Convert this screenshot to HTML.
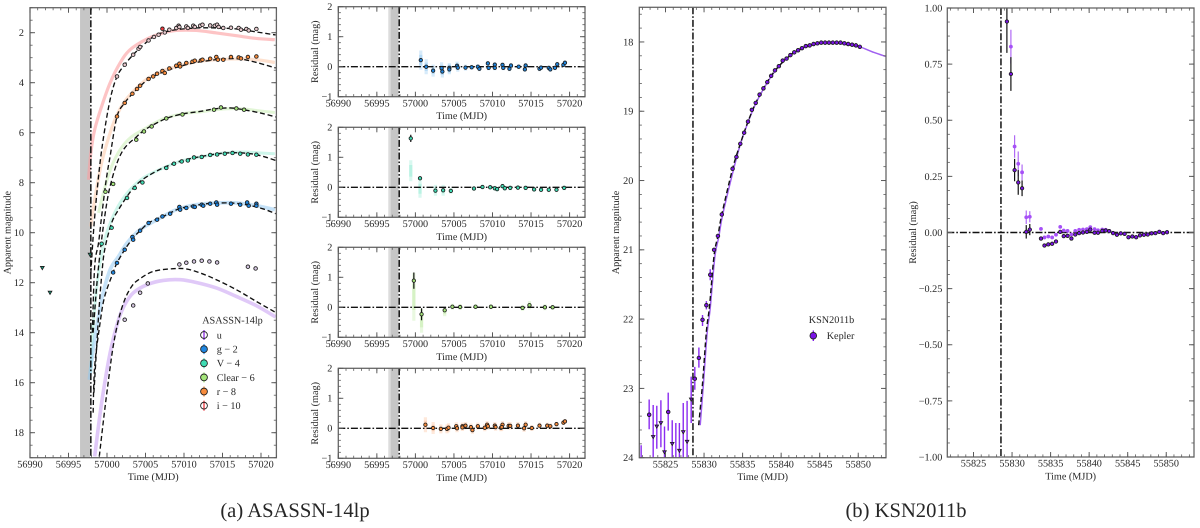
<!DOCTYPE html>
<html lang="en">
<head>
<meta charset="utf-8">
<title>ASASSN-14lp and KSN2011b light curves</title>
<style>
html,body{margin:0;padding:0;background:#fff;width:1200px;height:528px;overflow:hidden}
svg{display:block}
text{font-family:"Liberation Serif",serif;fill:#262626;text-rendering:geometricPrecision}
</style>
</head>
<body>
<svg id="figure" xmlns="http://www.w3.org/2000/svg" width="1200" height="528" viewBox="0 0 1200 528">
  <text x="295" y="517" font-size="20.6" text-anchor="middle">(a) ASASSN-14lp</text>
  <text x="906" y="517" font-size="20.6" text-anchor="middle">(b) KSN2011b</text>
</svg>
<script>
// ---- Axis tick labels ----
const mjdTicksA = [56990, 56995, 57000, 57005, 57010, 57015, 57020];
const mjdTicksB = [55825, 55830, 55835, 55840, 55845, 55850];
const magTicksA = [2, 4, 6, 8, 10, 12, 14, 16, 18];
const magTicksB = [18, 19, 20, 21, 22, 23, 24];
const residTicksA = [-1, 0, 1, 2];
const residTicksB = [-1, -0.75, -0.5, -0.25, 0, 0.25, 0.5, 0.75, 1];

// ---- Event epochs (MJD) ----
const grayBandA = [56996.5, 56997.8];
const residualPaleEdge = [56996.5, 56996.8];
const firstLightA = 56997.9;
const firstLightB = 55828.56;

// ---- ASASSN-14lp photometry; times are days after MJD 56990 ----
const iTime = [11.3,12.3,13.4,14.1,14.3,15.4,16.1,16.7,17.5,18.1,19.0,19.3,19.4,20.3,20.5,21.2,21.4,22.1,22.4,23.4,24.0,24.3,24.5,25.1,26.1,27.1,27.4,28.1,28.4,29.4];
const iMag = [3.75,3.28,2.88,2.64,2.57,2.31,2.17,2.08,1.99,1.88,1.81,1.72,1.77,1.75,1.81,1.72,1.77,1.72,1.68,1.71,1.72,1.68,1.77,1.81,1.80,1.81,1.88,1.85,1.91,1.85];
const iRedTime = [17.2];
const iRedMag = [1.84];
const rTime = [11.3,12.3,13.3,13.9,14.3,15.4,16.0,16.5,17.2,17.5,18.1,19.0,19.4,19.5,20.3,21.1,21.4,22.2,22.4,23.4,24.2,24.4,25.1,26.1,27.1,27.4,28.3,29.4];
const rMag = [5.35,4.81,4.44,4.25,4.12,3.85,3.75,3.64,3.53,3.61,3.43,3.32,3.24,3.35,3.21,3.16,3.12,3.11,3.08,3.04,2.97,3.08,3.08,2.97,2.99,3.03,2.97,2.95];
const clearTime = [9.8,10.8,13.8,14.8,15.8,17.7,19.8,23.9,24.8,26.8,27.8];
const clearMag = [8.36,8.05,6.28,5.95,5.75,5.43,5.27,5.08,4.99,5.03,5.08];
const vTime = [9.3,10.6,12.6,13.6,14.6,17.7,18.7,19.7,20.5,21.3,22.3,23.4,24.3,25.3,26.3,27.3,28.3,29.4];
const vMag = [10.44,9.80,8.61,8.21,7.99,7.41,7.24,7.15,7.11,6.99,6.97,6.89,6.87,6.84,6.81,6.84,6.87,6.88];
const gTime = [10.8,11.3,12.3,13.3,13.4,14.3,15.4,16.5,17.2,18.2,19.4,19.5,20.3,21.2,21.4,22.3,22.5,23.4,24.2,24.3,26.1,27.3,28.2,28.4,29.4,29.4];
const gMag = [11.59,11.21,10.68,10.17,10.28,9.92,9.61,9.48,9.35,9.24,8.97,9.08,9.01,8.95,8.97,8.88,8.92,8.84,8.79,8.88,8.84,8.88,8.79,8.92,8.84,8.92];
const uTime = [12.3,13.4,14.3,15.3,19.4,20.3,21.3,22.3,23.3,24.3,28.3,29.3];
const uMag = [13.48,12.91,12.40,12.03,11.27,11.20,11.15,11.12,11.15,11.19,11.36,11.43];
const limitTime = [1.6,2.6,7.8];
const limitMag = [11.41,12.40,10.88];

// ---- ASASSN-14lp dashed model curves ----
const iModelTime = [7.9,8.3,8.9,9.5,10.4,11.3,12.3,13.4,14.3,15.4,16.2,17.3,19.0,21.6,24.2,26.8,29.4,31.9];
const iModelMag = [11.61,9.75,7.75,6.28,4.68,3.75,3.28,2.88,2.61,2.31,2.12,1.99,1.88,1.81,1.81,1.85,1.97,2.09];
const rModelTime = [8.1,8.4,8.9,9.3,9.9,10.4,11.3,12.3,13.3,14.2,15.4,16.5,17.5,19.0,21.2,23.4,25.1,27.3,29.4,31.9];
const rModelMag = [14.0,11.35,10.41,9.35,7.88,6.95,5.35,4.81,4.44,4.17,3.85,3.68,3.55,3.39,3.21,3.11,3.05,3.05,3.19,3.41];
const clearModelTime = [8.2,8.7,9.3,9.9,10.4,11.3,12.3,13.8,14.8,15.8,17.7,19.8,22.1,23.9,26.0,27.7,29.9,31.9];
const clearModelMag = [14.0,12.0,10.28,8.95,8.15,7.21,6.61,6.17,5.91,5.72,5.43,5.25,5.15,5.05,5.01,5.08,5.21,5.37];
const vModelTime = [8.3,8.9,9.3,9.7,10.6,11.5,12.6,13.6,14.6,16.0,17.7,19.7,21.6,24.2,26.4,28.6,30.3,31.9];
const vModelMag = [16.4,13.35,11.75,10.68,9.61,9.08,8.55,8.15,7.88,7.61,7.35,7.12,6.99,6.85,6.80,6.84,6.95,7.11];
const gModelTime = [8.2,8.4,9.1,9.7,10.8,11.3,12.3,13.4,14.3,15.4,16.5,17.3,18.2,19.4,21.2,23.4,26.0,28.1,30.3,31.9];
const gModelMag = [17.2,15.35,13.61,12.55,11.59,11.21,10.68,10.21,9.92,9.61,9.45,9.35,9.21,9.04,8.92,8.83,8.81,8.88,9.05,9.24];
const uModelTime = [9.0,9.6,10.2,10.8,11.5,12.3,13.2,14.1,16.0,18.6,20.3,22.1,24.2,26.8,29.4,31.9];
const uModelMag = [18.95,17.35,15.88,14.55,13.48,12.68,12.15,11.88,11.55,11.44,11.45,11.61,11.88,12.28,12.75,13.19];

// ---- ASASSN-14lp pale posterior bands ----
const iBandTime = [7.6,7.9,8.4,9.3,10.4,11.7,13.0,15.2,17.3,19.0,21.6,24.2,26.8,29.4,31.8];
const iBandMag = [7.88,6.81,5.88,4.95,4.01,3.21,2.68,2.25,2.01,1.91,1.91,2.01,2.12,2.23,2.28];
const rBandTime = [7.9,8.4,9.3,10.4,11.3,12.3,13.4,15.2,17.3,19.5,21.6,24.2,26.8,29.4,31.8];
const rBandMag = [9.75,8.68,7.21,6.01,5.28,4.75,4.35,3.85,3.52,3.32,3.16,3.08,3.05,3.08,3.19];
const clearBandTime = [8.9,9.7,10.6,11.7,13.0,14.7,17.3,19.9,22.5,25.1,27.7,29.9,31.8];
const clearBandMag = [9.21,8.21,7.35,6.68,6.21,5.88,5.45,5.24,5.15,5.05,5.05,5.13,5.19];
const vBandTime = [7.9,8.2,8.9,9.7,10.6,11.7,13.0,14.7,17.3,19.9,22.5,25.1,27.7,29.9,31.8];
const vBandMag = [15.6,13.75,11.6,10.28,9.48,8.81,8.28,7.81,7.41,7.11,6.95,6.81,6.77,6.81,6.84];
const gBandTime = [7.7,8.4,9.3,10.4,11.5,12.6,14.3,16.5,19.0,21.6,24.2,26.8,29.4,31.8];
const gBandMag = [15.88,14.28,12.68,11.48,10.95,10.41,9.88,9.48,9.08,8.88,8.81,8.81,8.92,9.08];
const uBandTime = [8.4,9.3,10.4,11.5,12.3,13.4,15.2,17.3,19.5,21.6,24.2,26.8,29.4,31.9];
const uBandMag = [18.95,16.81,14.81,13.48,12.88,12.41,12.08,11.91,11.88,11.99,12.21,12.55,12.92,13.37];

// ---- ASASSN-14lp residuals ----
const gResidTime = [10.7,11.4,12.3,13.4,13.5,14.4,14.4,15.4,15.5,16.5,17.3,18.1,18.3,19.4,19.5,20.3,20.3,21.3,21.4,22.4,22.2,23.4,24.3,24.2,26.1,26.3,27.3,27.5,28.1,28.4,29.2,29.4];
const gResid = [.22,0,-.13,-.05,-.16,-.04,-.09,.03,-.03,-.03,-.02,0,-.07,.11,-.04,.07,-.04,.06,-.04,.04,-.07,0,.04,-.09,-.07,-.03,-.04,-.09,-.04,.08,.06,.13];
const gResidSpread = [.32,.25,.2,.2,.2,.16,.16,.14,.14,.1];
const vResidTime = [9.4,10.6,12.6,13.6,14.6,17.6,18.7,19.7,20.3,20.6,21.3,21.6,22.3,23.3,24.3,25.4,26.3,27.3,28.3,29.3];
const vResid = [1.63,.3,-.11,-.1,-.12,-.04,.01,0,-.03,-.06,.04,-.03,-.02,-.01,-.02,-.07,-.08,-.08,-.08,-.02];
const vResidError = [.12,.05];
const vBandCentre = [.55,-.05,-.1,-.1,-.12];
const vResidSpread = [.35,.3,.18,.18,.1];
const clearResidTime = [9.8,10.8,13.8,14.8,15.8,17.8,19.8,23.9,24.8,26.8,27.8];
const clearResid = [.89,-.23,-.1,.02,.01,.02,.02,-.02,.07,0,0];
const clearResidError = [.27,.2,.05];
const clearBandCentre = [.35,-.45,-.15,.02,.01,.02,.02,-.02,.07,0,0];
const clearResidSpread = [.8,.4,.15,.1,.1,.08,.08,.1,.14,.1,.08];
const rResidTime = [11.3,12.3,13.3,14.1,14.3,15.3,15.4,16.1,16.1,16.5,17.2,17.4,18.1,19.0,19.3,19.4,20.3,20.4,21.1,21.3,21.2,22.1,22.3,23.3,24.1,24.3,25.1,26.1,27.1,27.5,28.3,29.2,29.4];
const rResid = [.12,.01,-.02,-.02,.02,.07,0,.07,.03,.09,.04,-.06,.07,.02,.12,.07,.09,.04,.02,.12,.04,.08,.08,.09,0,.12,.01,.09,.09,.07,.14,.19,.23];
const rResidSpread = [.25,.2,.15,.15,.15,.13,.13,.12,.12,.12,.12,.12,.12,.12,.12,.12,.12,.12,.12,.12,.12,.12,.12,.12,.12,.12,.1,.1,.1,.1,.08,.08,.08];

// ---- KSN2011b photometry; times are days after MJD 55825 ----
const keplerTime = [4.33,4.8,5.3,5.8,6.3,6.8,7.3,8.7,9.2,9.7,10.2,10.7,11.2,11.7,12.2,12.7,13.2,13.7,14.2,14.7,15.2,15.7,16.2,16.7,17.2,17.7,18.2,18.7,19.2,19.7,20.2,20.7,21.2,21.7,22.2,22.7,23.2,23.7,24.2,24.7,25.2];
const keplerMag = [22.56,22.01,21.80,21.36,21.00,20.80,20.49,19.83,19.66,19.47,19.31,19.15,18.98,18.88,18.76,18.67,18.58,18.49,18.41,18.35,18.27,18.24,18.19,18.15,18.12,18.09,18.06,18.05,18.03,18.02,18.01,18.01,18.01,18.01,18.01,18.01,18.02,18.03,18.04,18.05,18.07];
const keplerBarTime = [-3.16,-2.12,-1.6,-1.13,-.6,-.13,.35,.87,1.34,1.8,2.3,2.8,3.33,3.8,4.33,4.8,5.3,5.8];
const keplerBarTop = [23.82,23.16,23.24,23.25,23.17,23.55,23.06,23.46,23.50,23.50,23.21,23.18,22.83,22.69,22.41,21.94,21.74,21.28];
const keplerBarBottom = [24,23.59,24,23.87,23.85,24,23.61,24,24,24,24,24,23.50,23.02,22.70,22.10,21.86,21.44];
const keplerDetectionTime = [-2.12,.35,3.8];
const keplerDetectionMag = [23.38,23.34,22.86];
const keplerLimitTime = [-1.6,-1.13,-.6,-.13,.87,1.8,2.3,2.8,3.33];
const keplerLimitMag = [23.70,23.55,23.50,23.92,23.80,23.90,23.63,23.77,23.16];
const keplerModelTime = [4.3,4.8,5.3,5.7,6.3,6.8,7.3,8.7,9.7,10.7,11.7,12.7,13.7,14.7,15.7,16.7,17.7,18.7,19.7,20.7,21.7,22.7,23.7,25.2];
const keplerModelMag = [23.53,22.93,22.18,21.82,21.08,20.80,20.49,19.83,19.47,19.15,18.88,18.67,18.49,18.35,18.24,18.15,18.09,18.05,18.02,18.01,18.01,18.02,18.04,18.07];
const keplerBandTime = [4.5,4.9,5.4,5.8,6.4,6.9,7.4,8.8,9.7,10.7,11.7,12.7,13.7,14.7,15.7,16.7,17.7,18.7,19.7,20.7,21.7,22.7,23.7,25.2,27.0,28.6];
const keplerBandMag = [23.53,22.96,22.2,21.84,21.1,20.82,20.5,19.85,19.48,19.16,18.89,18.68,18.5,18.35,18.24,18.15,18.09,18.05,18.02,18.01,18.01,18.02,18.04,18.07,18.15,18.21];

// ---- KSN2011b residuals ----
const modelResidTime = [4.33,4.85,5.33,5.8,6.3,6.84,7.3,8.75,9.2,9.7,10.2,10.7,11.25,11.7,12.2,12.7,13.2,13.7,14.2,14.7,15.15,15.7,16.15,16.7,17.15,17.6,18.1,18.6,19.1,19.6,20.1,20.6,21.1,21.6,22.1,22.6,23.1,23.6,24.1,24.6,25.1];
const modelResid = [.94,.706,.278,.223,.197,.003,.013,-.027,-.058,-.053,-.05,-.04,.003,-.016,-.015,-.027,-.009,-.003,0,.003,.013,-.001,-.001,.007,.009,.006,-.003,-.01,-.004,-.006,-.021,-.018,-.021,-.013,-.01,-.009,-.004,-.003,.003,-.003,.001];
const modelResidError = [.14,.075,.05,.055,.035,.03,.025];
const bandResidTime = [4.85,5.33,5.8,6.3,6.84,7.3,8.75,9.2,9.7,10.2,10.7,11.25,11.7,12.2,12.7,13.2,13.7,14.2,14.7,15.15,15.7,16.15,16.7,17.15,17.6,18.1,18.6,19.1,19.6,20.1,20.6,21.1,21.6,22.1,22.6,23.1,23.6,24.1,24.6,25.1];
const bandResid = [.828,.383,.306,.268,.068,.07,.016,-.022,-.018,-.022,-.01,.025,.009,.007,-.009,.007,.012,.013,.015,.024,.015,.01,.013,.012,.007,-.001,-.009,-.003,-.005,-.02,-.017,-.02,-.012,-.009,-.008,-.003,-.002,.004,-.002,.002];
const bandResidError = [.075,.05,.055,.035,.03,.025];

// ---- Legends ----
const legendALabels = ['u','g − 2','V − 4','Clear − 6','r − 8','i − 10'];

// ---- Style ----
const COL = {
  u:{mark:'#d6c8e2',edge:'#8a2be2',band:'#c79df2'},
  g:{mark:'#1f86e0',edge:'#1f86e0',band:'#8cc6f2'},
  v:{mark:'#3fdcb4',edge:'#3fdcb4',band:'#93ebd3'},
  c:{mark:'#a4e57a',edge:'#a4e57a',band:'#bfeaa5'},
  r:{mark:'#f78b3c',edge:'#f78b3c',band:'#fdbd95'},
  i:{mark:'#e6c8cc',edge:'#e8343a',band:'#fb9c9f'}
};
const NS = 'http://www.w3.org/2000/svg';
const svg = document.getElementById('figure');

function node(parent, tag, name) {
  const el = document.createElementNS(NS, tag);
  
  
  parent.appendChild(el);
  return el;
}
function set(el, attrs) { for (const k in attrs) el.setAttribute(k, attrs[k]); return el; }

function makePanel(id, left, right, top, bottom, xMin, xMax, yTop, yBottom) {
  const g = node(svg, 'g', id);
  const clipId = id + '-clip';
  const clip = document.createElementNS(NS, 'clipPath');
  clip.setAttribute('id', clipId);
  const cr = document.createElementNS(NS, 'rect');
  set(cr, {x:left, y:top, width:right-left, height:bottom-top});
  clip.appendChild(cr);
  g.appendChild(clip);
  const plot = node(g, 'g', id + '-plot-area');
  plot.setAttribute('clip-path', 'url(#' + clipId + ')');
  return {g, plot, left, right, top, bottom, xMin, xMax, yTop, yBottom, id,
    sx: t => left + (t - xMin) / (xMax - xMin) * (right - left),
    sy: v => top + (v - yTop) / (yBottom - yTop) * (bottom - top)};
}

function smoothPath(xs, ys) {
  let d = 'M' + xs[0].toFixed(2) + ' ' + ys[0].toFixed(2);
  for (let i = 0; i < xs.length - 1; i++) {
    const i0 = Math.max(0, i - 1), i3 = Math.min(xs.length - 1, i + 2);
    const c1x = xs[i] + (xs[i+1] - xs[i0]) / 6, c1y = ys[i] + (ys[i+1] - ys[i0]) / 6;
    const c2x = xs[i+1] - (xs[i3] - xs[i]) / 6, c2y = ys[i+1] - (ys[i3] - ys[i]) / 6;
    d += 'C' + c1x.toFixed(2) + ' ' + c1y.toFixed(2) + ' ' + c2x.toFixed(2) + ' ' + c2y.toFixed(2) + ' ' + xs[i+1].toFixed(2) + ' ' + ys[i+1].toFixed(2);
  }
  return d;
}
function curve(p, name, base, ts, ms, stroke, width, opacity, dash) {
  const el = node(p.plot, 'path', name);
  set(el, {d: smoothPath(ts.map(t => p.sx(base + t)), ms.map(m => p.sy(m))), fill:'none', stroke, 'stroke-width':width, 'stroke-opacity':opacity, 'stroke-linecap':'butt', 'stroke-linejoin':'round'});
  if (dash) el.setAttribute('stroke-dasharray', dash);
  return el;
}
function dot(parent, name, cx, cy, r, fill, edge, ew) {
  const el = node(parent, 'circle', name);
  set(el, {cx:cx.toFixed(2), cy:cy.toFixed(2), r, fill, stroke:edge, 'stroke-width':ew});
  return el;
}
function vbar(parent, name, x, y1, y2, stroke, width, opacity) {
  const el = node(parent, 'line', name);
  set(el, {x1:x.toFixed(2), x2:x.toFixed(2), y1:y1.toFixed(2), y2:y2.toFixed(2), stroke, 'stroke-width':width, 'stroke-opacity':opacity === undefined ? 1 : opacity});
  return el;
}
function triangle(parent, name, cx, cy, s, fill, edge) {
  const el = node(parent, 'polygon', name);
  const pts = [[cx - s, cy - s * .8], [cx + s, cy - s * .8], [cx, cy + s * .95]];
  set(el, {points: pts.map(q => q[0].toFixed(2) + ',' + q[1].toFixed(2)).join(' '), fill, stroke:edge, 'stroke-width':.8});
  return el;
}
function firstLight(p, t) {
  const el = node(p.plot, 'line', p.id + '-first-light-line');
  set(el, {x1:p.sx(t), x2:p.sx(t), y1:p.top, y2:p.bottom, stroke:'#111', 'stroke-width':1.5, 'stroke-dasharray':'7 2 1.6 2'});
}
function zeroLine(p) {
  const el = node(p.plot, 'line', p.id + '-zero-line');
  set(el, {x1:p.left, x2:p.right, y1:p.sy(0), y2:p.sy(0), stroke:'#111', 'stroke-width':1.4, 'stroke-dasharray':'7 2 1.6 2'});
}
function grayBand(p) {
  const el = node(p.plot, 'rect', p.id + '-gray-band');
  set(el, {x:p.sx(grayBandA[0]), y:p.top, width:p.sx(grayBandA[1]) - p.sx(grayBandA[0]), height:p.bottom - p.top, fill:'#c6c6c6'});
}
function paleEdge(p) {
  const el = node(p.plot, 'rect', p.id + '-gray-band-edge');
  set(el, {x:p.sx(residualPaleEdge[0]), y:p.top, width:p.sx(residualPaleEdge[1]) - p.sx(residualPaleEdge[0]), height:p.bottom - p.top, fill:'#dcdcdc'});
}

function tick(g, name, x1, y1, x2, y2, width) {
  const el = node(g, 'line', name);
  set(el, {x1, y1, x2, y2, stroke:'#5a5a5a', 'stroke-width':width});
}
const FS = 10.2;
function axes(p, xTicks, xMinorStep, yTicks, yMinorStep, yFormat, xLabel, yLabel, yLabelX, labelGap) {
  const a = node(p.g, 'g', p.id + '-axes');
  const frame = node(a, 'rect', p.id + '-frame');
  set(frame, {x:p.left, y:p.top, width:p.right - p.left, height:p.bottom - p.top, fill:'none', stroke:'#666', 'stroke-width':1.3});
  const MAJ = 5, MIN = 2.6;
  for (let t = Math.ceil(p.xMin / xMinorStep) * xMinorStep; t <= p.xMax + 1e-6; t += xMinorStep) {
    const x = p.sx(t);
    tick(a, 'x-minor-tick', x, p.bottom, x, p.bottom - MIN, .8);
    tick(a, 'x-minor-tick', x, p.top, x, p.top + MIN, .8);
  }
  const lo = Math.min(p.yTop, p.yBottom), hi = Math.max(p.yTop, p.yBottom);
  const first = Math.ceil(lo / yMinorStep - 1e-6);
  const last = Math.floor(hi / yMinorStep + 1e-6);
  for (let i = first; i <= last; i++) {
    const y = p.sy(i * yMinorStep);
    tick(a, 'y-minor-tick', p.left, y, p.left + MIN, y, .8);
    tick(a, 'y-minor-tick', p.right, y, p.right - MIN, y, .8);
  }
  xTicks.forEach(t => {
    const x = p.sx(t);
    tick(a, 'x-major-tick', x, p.bottom, x, p.bottom - MAJ, 1);
    tick(a, 'x-major-tick', x, p.top, x, p.top + MAJ, 1);
    const el = node(a, 'text', 'x-tick-label');
    set(el, {x, y:p.bottom + 9.7, 'font-size':FS, 'text-anchor':'middle'});
    el.textContent = t;
  });
  yTicks.forEach(v => {
    const y = p.sy(v);
    tick(a, 'y-major-tick', p.left, y, p.left + MAJ, y, 1);
    tick(a, 'y-major-tick', p.right, y, p.right - MAJ, y, 1);
    const el = node(a, 'text', 'y-tick-label');
    set(el, {x:p.left - labelGap, y:y + 3.4, 'font-size':FS, 'text-anchor':'end'});
    el.textContent = yFormat(v);
  });
  const xt = node(a, 'text', 'x-axis-title');
  set(xt, {x:(p.left + p.right) / 2, y:p.bottom + 22.5, 'font-size':FS, 'text-anchor':'middle'});
  xt.textContent = xLabel;
  const yCentre = (p.top + p.bottom) / 2;
  const yt = node(a, 'text', 'y-axis-title');
  set(yt, {x:yLabelX, y:yCentre, 'font-size':FS, 'text-anchor':'middle', transform:'rotate(-90 ' + yLabelX + ' ' + yCentre + ')'});
  yt.textContent = yLabel;
}
const fmtPlain = v => String(v).replace('-', '−');
const fmtTwo = v => v.toFixed(2).replace('-', '−');

// ======== Panel A: ASASSN-14lp light curve ========
const A0 = 56990;
const pA = makePanel('asassn-lightcurve-panel', 30, 276.4, 7.7, 457.7, 56990, 57022, 1, 19);
grayBand(pA);
curve(pA, 'i-band-posterior', A0, iBandTime, iBandMag, COL.i.band, 3.2, .6);
curve(pA, 'r-band-posterior', A0, rBandTime, rBandMag, COL.r.band, 3.2, .45);
curve(pA, 'clear-band-posterior', A0, clearBandTime, clearBandMag, COL.c.band, 3, .45);
curve(pA, 'v-band-posterior', A0, vBandTime, vBandMag, COL.v.band, 3, .45);
curve(pA, 'g-band-posterior', A0, gBandTime, gBandMag, COL.g.band, 3.6, .5);
curve(pA, 'u-band-posterior', A0, uBandTime, uBandMag, COL.u.band, 3.6, .55);
firstLight(pA, firstLightA);
const DASH = '5 2.8';
curve(pA, 'i-model-curve', A0, iModelTime, iModelMag, '#111', 1.35, 1, DASH);
curve(pA, 'r-model-curve', A0, rModelTime, rModelMag, '#111', 1.35, 1, DASH);
curve(pA, 'clear-model-curve', A0, clearModelTime, clearModelMag, '#111', 1.35, 1, DASH);
curve(pA, 'v-model-curve', A0, vModelTime, vModelMag, '#111', 1.35, 1, DASH);
curve(pA, 'g-model-curve', A0, gModelTime, gModelMag, '#111', 1.35, 1, DASH);
curve(pA, 'u-model-curve', A0, uModelTime, uModelMag, '#111', 1.35, 1, DASH);
function scatter(p, name, base, ts, ms, fill, r) {
  ts.forEach((t, i) => dot(p.plot, name, p.sx(base + t), p.sy(ms[i]), r || 1.8, fill, '#1a1a1a', .85));
}
scatter(pA, 'u-point', A0, uTime, uMag, COL.u.mark);
scatter(pA, 'g-point', A0, gTime, gMag, COL.g.mark);
scatter(pA, 'v-point', A0, vTime, vMag, COL.v.mark);
scatter(pA, 'clear-point', A0, clearTime, clearMag, COL.c.mark);
scatter(pA, 'r-point', A0, rTime, rMag, COL.r.mark);
scatter(pA, 'i-point', A0, iTime, iMag, COL.i.mark);
scatter(pA, 'i-point', A0, iRedTime, iRedMag, '#ef3b40');
limitTime.forEach((t, i) => triangle(pA.plot, 'v-upper-limit', pA.sx(A0 + t), pA.sy(limitMag[i]), 1.9, '#1e9c7e', '#1a1a1a'));
axes(pA, mjdTicksA, 1, magTicksA, .5, fmtPlain, 'Time (MJD)', 'Apparent magnitude', 10.5, 6);

// Legend A
const legA = node(pA.g, 'g', 'asassn-legend');
const legTitle = node(legA, 'text', 'legend-title');
set(legTitle, {x:232.5, y:323.4, 'font-size':FS, 'text-anchor':'middle'});
legTitle.textContent = 'ASASSN-14lp';
const legKeys = ['u','g','v','c','r','i'];
legendALabels.forEach((label, i) => {
  const y = 335 + i * 14.13;
  const key = COL[legKeys[i]];
  const entry = node(legA, 'g', 'legend-entry');
  vbar(entry, 'legend-errorbar', 204, y - 5, y + 5, key.edge, 1.3);
  dot(entry, 'legend-marker', 204, y, 3.4, (i === 0 || i === 5) ? 'none' : key.mark, '#222', .9);
  const tx = node(entry, 'text', 'legend-label');
  set(tx, {x:216.7, y:y + 3.4, 'font-size':FS});
  tx.textContent = label;
});

// ======== Residual panels ========
function residualPanel(id, top, pointsName, ts, rs, fill, band, spread, centres, errors) {
  const p = makePanel(id, 338.3, 585, top, top + 90, 56990, 57022, 2, -1);
  grayBand(p);
  paleEdge(p);
  ts.forEach((t, i) => {
    const s = spread && spread[i] !== undefined ? spread[i] : .08;
    const c = centres && centres[i] !== undefined ? centres[i] : rs[i];
    const x = p.sx(A0 + t);
    vbar(p.plot, pointsName + '-spread', x, p.sy(c + s), p.sy(c - s), band, 3.2, .35);
    vbar(p.plot, pointsName + '-spread-core', x, p.sy(c + s * .55), p.sy(c - s * .55), band, 3.2, .45);
  });
  zeroLine(p);
  firstLight(p, firstLightA);
  ts.forEach((t, i) => {
    const x = p.sx(A0 + t);
    if (errors && errors[i]) vbar(p.plot, pointsName + '-errorbar', x, p.sy(rs[i] + errors[i]), p.sy(rs[i] - errors[i]), '#111', 1.2);
    dot(p.plot, pointsName, x, p.sy(rs[i]), 1.7, fill, '#1a1a1a', .85);
  });
  axes(p, mjdTicksA, 1, residTicksA, .2, fmtPlain, 'Time (MJD)', 'Residual (mag)', 318, 6);
  return p;
}
residualPanel('g-residual-panel', 6.7, 'g-residual-point', gResidTime, gResid, COL.g.mark, COL.g.band, gResidSpread);
residualPanel('v-residual-panel', 127.3, 'v-residual-point', vResidTime, vResid, COL.v.mark, COL.v.band, vResidSpread, vBandCentre, vResidError);
residualPanel('clear-residual-panel', 247.3, 'clear-residual-point', clearResidTime, clearResid, COL.c.mark, COL.c.band, clearResidSpread, clearBandCentre, clearResidError);
residualPanel('r-residual-panel', 368.3, 'r-residual-point', rResidTime, rResid, COL.r.mark, COL.r.band, rResidSpread);

// ======== Panel B: KSN2011b light curve ========
const B0 = 55825;
const PURPLE = '#7a12e6';
const LIGHT = '#b06af5';
const pB = makePanel('ksn-lightcurve-panel', 639.3, 886, 7.3, 457.7, 55821.6, 55853.6, 17.5, 24);
keplerBarTime.forEach((t, i) => vbar(pB.plot, 'kepler-errorbar', pB.sx(B0 + t), pB.sy(keplerBarTop[i]), pB.sy(keplerBarBottom[i]), '#8a2bf0', 1.4));
firstLight(pB, firstLightB);
curve(pB, 'kepler-posterior-band', B0, keplerBandTime, keplerBandMag, '#a060f0', 1.5, 1);
curve(pB, 'kepler-model-curve', B0, keplerModelTime, keplerModelMag, '#111', 1.4, 1, DASH);
keplerTime.forEach((t, i) => dot(pB.plot, 'kepler-point', pB.sx(B0 + t), pB.sy(keplerMag[i]), 1.8, PURPLE, '#1a1a1a', .85));
keplerDetectionTime.forEach((t, i) => dot(pB.plot, 'kepler-point', pB.sx(B0 + t), pB.sy(keplerDetectionMag[i]), 1.8, PURPLE, '#1a1a1a', .85));
keplerLimitTime.forEach((t, i) => triangle(pB.plot, 'kepler-upper-limit', pB.sx(B0 + t), pB.sy(keplerLimitMag[i]), 1.8, PURPLE, '#1a1a1a'));
axes(pB, mjdTicksB, 1, magTicksB, .2, fmtPlain, 'Time (MJD)', 'Apparent magnitude', 619, 6);
const legB = node(pB.g, 'g', 'ksn-legend');
const legBTitle = node(legB, 'text', 'legend-title');
set(legBTitle, {x:831.5, y:322.8, 'font-size':FS, 'text-anchor':'middle'});
legBTitle.textContent = 'KSN2011b';
vbar(legB, 'legend-errorbar', 813.3, 330.5, 341, PURPLE, 1.3);
dot(legB, 'legend-marker', 813.3, 335.7, 3.3, PURPLE, '#222', .9);
const legBText = node(legB, 'text', 'legend-label');
set(legBText, {x:826.7, y:339.2, 'font-size':FS});
legBText.textContent = 'Kepler';

// ======== Panel B residuals ========
const pC = makePanel('ksn-residual-panel', 947.3, 1194, 8, 457, 55821.6, 55853.6, 1, -1);
zeroLine(pC);
firstLight(pC, firstLightB);
bandResidTime.forEach((t, i) => {
  const x = pC.sx(B0 + t);
  if (bandResidError[i]) vbar(pC.plot, 'posterior-residual-errorbar', x, pC.sy(bandResid[i] + bandResidError[i]), pC.sy(bandResid[i] - bandResidError[i]), LIGHT, 1.2);
  dot(pC.plot, 'posterior-residual-point', x, pC.sy(bandResid[i]), 1.9, '#a650f7', 'none', 0);
});
modelResidTime.forEach((t, i) => {
  const x = pC.sx(B0 + t);
  if (modelResidError[i]) vbar(pC.plot, 'model-residual-errorbar', x, pC.sy(modelResid[i] + modelResidError[i]), pC.sy(modelResid[i] - modelResidError[i]), '#111', 1.2);
  dot(pC.plot, 'model-residual-point', x, pC.sy(modelResid[i]), 1.7, PURPLE, '#1a1a1a', .85);
});
axes(pC, mjdTicksB, 1, residTicksB, .0625, fmtTwo, 'Time (MJD)', 'Residual (mag)', 916, 5);
</script>
</body>
</html>
